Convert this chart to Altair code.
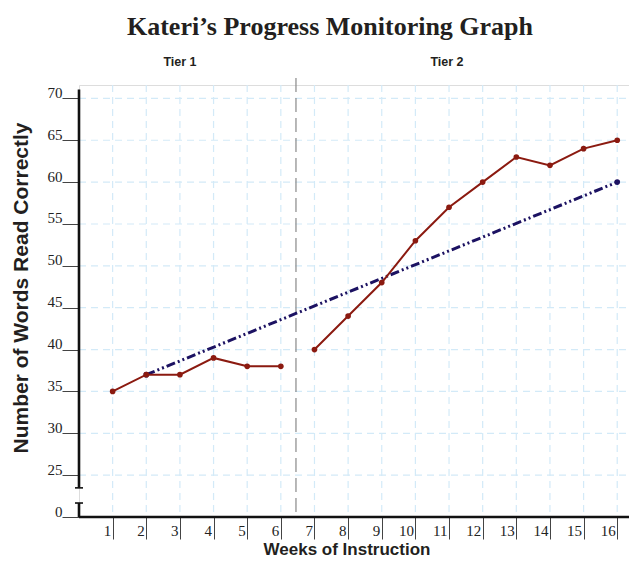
import altair as alt
import pandas as pd

weeks = list(range(1, 17))
scores = [35, 37, 37, 39, 38, 38, 40, 44, 48, 53, 57, 60, 63, 62, 64, 65]
phases = ["Tier 1"] * 6 + ["Tier 2"] * 10
goal_weeks = [2, 16]
goal_scores = [37, 60]
y_ticks = [25, 30, 35, 40, 45, 50, 55, 60, 65, 70]
ZERO = 20  # plotted position of the "0" below the axis break
phase_change = 6.45

XD = [0, 16.35]
YD = [ZERO, 71.6]
xs = alt.Scale(domain=XD, nice=False, zero=False)
ys = alt.Scale(domain=YD, nice=False, zero=False)

df = pd.DataFrame({"week": weeks, "score": scores, "phase": phases})
goal = pd.DataFrame({"week": goal_weeks, "score": goal_scores})
vgrid = pd.DataFrame({"week": weeks})
hgrid = pd.DataFrame({"v": y_ticks})

grid_color = "#d3eaf8"
red = "#8b1a10"
navy = "#1c1262"

xaxis = alt.Axis(values=weeks, grid=False, domain=False, tickSize=22, tickColor="#444",
                 tickWidth=1, labelAlign="right", labelBaseline="top", labelPadding=-16,
                 labelOffset=-2, labelFont="Liberation Serif", labelFontSize=15,
                 labelColor="#222", labelOverlap=False, labelBound=False, title=None)
yaxis = alt.Axis(values=[ZERO] + y_ticks, grid=False, domain=False, tickSize=17,
                 tickColor="#444", tickWidth=1, labelAlign="right",
                 labelBaseline="alphabetic", labelPadding=0, labelOffset=-1,
                 labelFont="Liberation Serif", labelFontSize=15, labelColor="#222",
                 labelOverlap=False, title=None,
                 labelExpr="datum.value < 24 ? '0' : datum.label")

X = lambda f: alt.X(f, scale=xs, axis=xaxis, title=None)
Y = lambda f: alt.Y(f, scale=ys, axis=yaxis, title=None)

vg = alt.Chart(vgrid).mark_rule(color=grid_color, strokeDash=[7, 5], strokeWidth=1.2).encode(
    x=X("week:Q"), y=alt.value(0), y2=alt.value(432))
hg = alt.Chart(hgrid).mark_rule(color=grid_color, strokeDash=[7, 5], strokeWidth=1.2).encode(
    y=Y("v:Q"), x=alt.value(0), x2=alt.value(550))

# y axis line with break
yseg = pd.DataFrame({"a": [23.48, ZERO], "b": [71.07, 21.67]})
yline = alt.Chart(yseg).mark_rule(color="#111", strokeWidth=2.6).encode(
    x=alt.value(0), y=Y("a:Q"), y2="b:Q")
caps = alt.Chart(pd.DataFrame({"c": [23.48, 21.67]})).mark_rule(color="#111", strokeWidth=1.6).encode(
    y=Y("c:Q"), x=alt.value(-4), x2=alt.value(4))
xline = alt.Chart(pd.DataFrame({"c": [ZERO]})).mark_rule(color="#111", strokeWidth=2.6).encode(
    y=Y("c:Q"), x=alt.value(0), x2=alt.value(552))

phase = alt.Chart(pd.DataFrame({"week": [phase_change]})).mark_rule(
    color="#888", strokeWidth=1.2, strokeDash=[14, 6]).encode(
    x=X("week:Q"), y=alt.value(-7), y2=alt.value(432))

goal_line = alt.Chart(goal).mark_line(color=navy, strokeWidth=3, strokeDash=[9, 3, 2, 3, 2, 3]).encode(
    x=X("week:Q"), y=Y("score:Q"))
goal_pts = alt.Chart(goal).mark_circle(color=navy, size=32, opacity=1).encode(
    x=X("week:Q"), y=Y("score:Q"))

line = alt.Chart(df).mark_line(color=red, strokeWidth=2).encode(
    x=X("week:Q"), y=Y("score:Q"), detail="phase:N")
pts = alt.Chart(df).mark_circle(color=red, size=32, opacity=1).encode(
    x=X("week:Q"), y=Y("score:Q"))

def label(txt, x, y, size, font, weight="bold", angle=0, color="#222", baseline="alphabetic"):
    return alt.Chart(pd.DataFrame({"t": [txt]})).mark_text(
        font=font, fontSize=size, fontWeight=weight, angle=angle, color=color,
        align="center", baseline=baseline).encode(text="t:N", x=alt.value(x), y=alt.value(y))

title = label("Kateri\u2019s Progress Monitoring Graph", 251, -50, 26, "Liberation Serif", color="#231f20")
tier1 = label("Tier 1", 101, -19, 12.5, "Liberation Sans", color="#231f20")
tier2 = label("Tier 2", 368, -19, 12.5, "Liberation Sans", color="#231f20")
ytitle = label("Number of Words Read Correctly", -57, 203, 21, "Liberation Sans", angle=270,
               baseline="middle", color="#231f20")
xtitle = label("Weeks of Instruction", 268, 470, 17, "Liberation Sans", color="#231f20")

chart = alt.layer(vg, hg, phase, yline, caps, xline, goal_line, goal_pts, line, pts,
                  title, tier1, tier2, ytitle, xtitle).properties(
    width=550, height=432,
    padding={"left": 71, "top": 77, "right": 0, "bottom": 42},
    autosize=alt.AutoSizeParams(type="none"),
).configure_view(stroke=None).configure_axis(labelOverlap=False).configure(background="white")

chart.save("out.html", embed_options={"renderer": "svg", "actions": False})
